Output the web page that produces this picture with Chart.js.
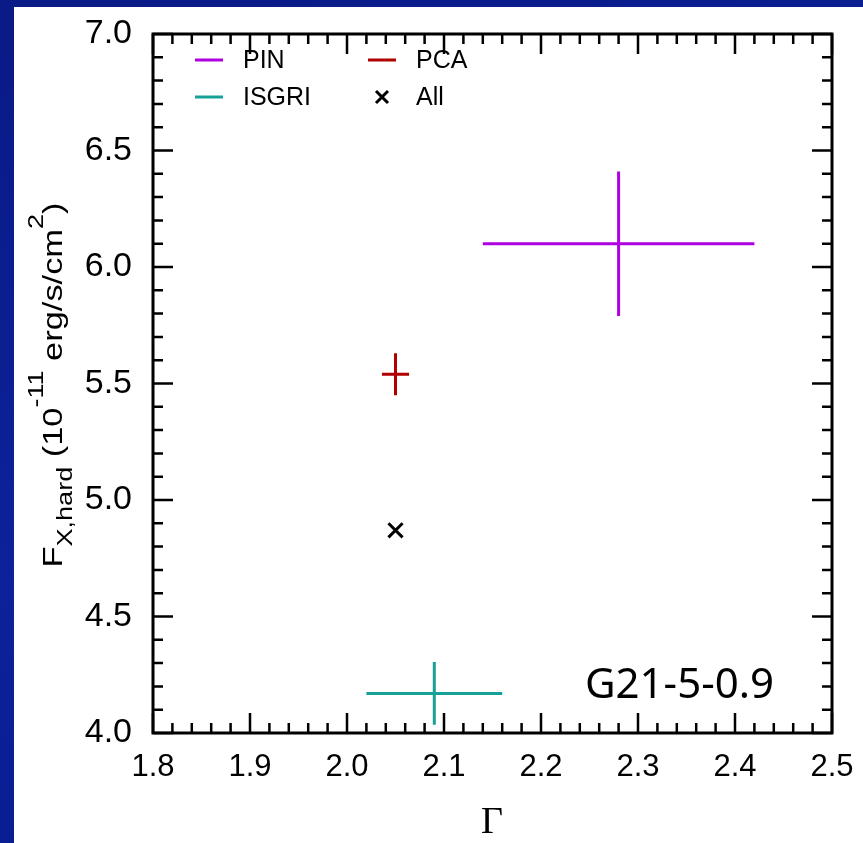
<!DOCTYPE html>
<html>
<head>
<meta charset="utf-8">
<script src="https://cdn.jsdelivr.net/npm/chart.js@4.4.1/dist/chart.umd.min.js"></script>
<style>
  html, body { margin: 0; padding: 0; }
  body {
    width: 863px; height: 843px; overflow: hidden;
    background: linear-gradient(160deg, #0a1a86 0%, #0b229a 50%, #08198a 100%);
  }
  #panel {
    position: absolute; left: 14px; top: 7px;
    width: 849px; height: 836px; background: #ffffff;
  }
</style>
</head>
<body>
<div id="panel"><canvas id="grafico" width="849" height="836"></canvas></div>
<script>
// Dados
const instrumentos = ['PIN', 'PCA', 'ISGRI'];
const cores = ['#b000e0', '#b00000', '#17a098'];
const gammaVals = [2.28, 2.05, 2.09];
const gammaErr = [0.14, 0.014, 0.07];
const fluxVals = [6.10, 5.54, 4.17];
const fluxErr = [0.31, 0.09, 0.135];
const allGamma = [2.05];
const allFlux = [4.87];
const xTicks = [1.8, 1.9, 2.0, 2.1, 2.2, 2.3, 2.4, 2.5];
const yTicks = [4.0, 4.5, 5.0, 5.5, 6.0, 6.5, 7.0];
const rotuloFonte = 'G21-5-0.9';

const SANS = "'Liberation Sans', Arial, Helvetica, sans-serif";

// Quebra cada intervalo entre ticks principais em n partes
function ticksMenores(maiores, n) {
  const out = [];
  for (let i = 0; i < maiores.length - 1; i++) {
    const a = maiores[i], b = maiores[i + 1];
    for (let k = 1; k < n; k++) out.push(a + (b - a) * k / n);
  }
  return out;
}

const datasets = instrumentos.map((nome, i) => ({
  label: nome,
  data: [{ x: gammaVals[i], y: fluxVals[i] }],
  xerr: [gammaErr[i]],
  yerr: [fluxErr[i]],
  borderColor: cores[i],
  backgroundColor: cores[i],
  pointRadius: 0,
  showLine: false
}));
datasets.push({
  label: 'All',
  data: allGamma.map((g, i) => ({ x: g, y: allFlux[i] })),
  borderColor: '#000',
  backgroundColor: '#000',
  pointStyle: 'crossRot',
  pointRadius: 10,
  borderWidth: 3,
  showLine: false
});

// Barras de erro, moldura, ticks internos, legenda e títulos
const moldura = {
  id: 'moldura',
  afterDatasetsDraw(chart) {
    const ctx = chart.ctx, xs = chart.scales.x, ys = chart.scales.y;
    ctx.save();
    ctx.lineWidth = 3;
    ctx.lineCap = 'butt';
    chart.data.datasets.forEach(ds => {
      if (!ds.xerr) return;
      ds.data.forEach((p, j) => {
        ctx.strokeStyle = ds.borderColor;
        ctx.beginPath();
        ctx.moveTo(xs.getPixelForValue(p.x - ds.xerr[j]), ys.getPixelForValue(p.y));
        ctx.lineTo(xs.getPixelForValue(p.x + ds.xerr[j]), ys.getPixelForValue(p.y));
        ctx.moveTo(xs.getPixelForValue(p.x), ys.getPixelForValue(p.y - ds.yerr[j]));
        ctx.lineTo(xs.getPixelForValue(p.x), ys.getPixelForValue(p.y + ds.yerr[j]));
        ctx.stroke();
      });
    });
    ctx.restore();
  },
  afterDraw(chart) {
    const ctx = chart.ctx, a = chart.chartArea, xs = chart.scales.x, ys = chart.scales.y;
    ctx.save();
    ctx.strokeStyle = '#000';
    // ticks
    ctx.lineWidth = 2.5;
    const tick = (v, len, eixo) => {
      ctx.beginPath();
      if (eixo === 'x') {
        const px = xs.getPixelForValue(v);
        ctx.moveTo(px, a.bottom); ctx.lineTo(px, a.bottom - len);
        ctx.moveTo(px, a.top); ctx.lineTo(px, a.top + len);
      } else {
        const py = ys.getPixelForValue(v);
        ctx.moveTo(a.left, py); ctx.lineTo(a.left + len, py);
        ctx.moveTo(a.right, py); ctx.lineTo(a.right - len, py);
      }
      ctx.stroke();
    };
    xTicks.forEach(v => tick(v, 20, 'x'));
    ticksMenores(xTicks, 5).forEach(v => tick(v, 10, 'x'));
    yTicks.forEach(v => tick(v, 20, 'y'));
    ticksMenores(yTicks, 5).forEach(v => tick(v, 10, 'y'));
    // moldura
    ctx.lineWidth = 3;
    ctx.strokeRect(a.left, a.top, a.right - a.left, a.bottom - a.top);

    // legenda
    ctx.font = '25px ' + SANS;
    ctx.textBaseline = 'middle';
    ctx.fillStyle = '#000';
    const itens = [
      { nome: 'PIN', cor: cores[0], x: 181, y: 53 },
      { nome: 'PCA', cor: cores[1], x: 354, y: 53 },
      { nome: 'ISGRI', cor: cores[2], x: 181, y: 90 },
      { nome: 'All', cor: '#000', x: 354, y: 90, marca: true }
    ];
    itens.forEach(it => {
      ctx.lineWidth = 3;
      ctx.strokeStyle = it.cor;
      ctx.beginPath();
      if (it.marca) {
        const cx = it.x + 14, r = 6;
        ctx.moveTo(cx - r, it.y - r); ctx.lineTo(cx + r, it.y + r);
        ctx.moveTo(cx - r, it.y + r); ctx.lineTo(cx + r, it.y - r);
      } else {
        ctx.moveTo(it.x, it.y); ctx.lineTo(it.x + 28, it.y);
      }
      ctx.stroke();
      ctx.fillText(it.nome, it.x + 48, it.y + 1);
    });

    // rótulo da fonte
    ctx.font = "42px 'Noto Sans', sans-serif";
    ctx.textBaseline = 'alphabetic';
    ctx.textAlign = 'left';
    ctx.fillText(rotuloFonte, 571, 691);

    // título do eixo x
    ctx.font = "38px 'Liberation Serif', 'Times New Roman', serif";
    ctx.textAlign = 'center';
    ctx.fillText('\u0393', 478, 826);

    // título do eixo y com subscrito e sobrescrito
    const partes = [
      { t: 'F', f: 28, dy: 0 },
      { t: 'X,hard', f: 22, dy: 10 },
      { t: ' (10', f: 28, dy: 0 },
      { t: '-11', f: 22, dy: -19 },
      { t: ' erg/s/cm', f: 28, dy: 0 },
      { t: '2', f: 22, dy: -19 },
      { t: ')', f: 28, dy: 0 }
    ];
    ctx.textAlign = 'left';
    let total = 0;
    partes.forEach(p => { ctx.font = p.f + 'px ' + SANS; p.w = ctx.measureText(p.t).width; total += p.w; });
    const estica = 365 / total;
    ctx.translate(48, 378);
    ctx.rotate(-Math.PI / 2);
    ctx.scale(estica, 1);
    let x0 = -total / 2;
    partes.forEach(p => {
      ctx.font = p.f + 'px ' + SANS;
      ctx.fillText(p.t, x0, p.dy);
      x0 += p.w;
    });
    ctx.restore();
  }
};

new Chart(document.getElementById('grafico'), {
  type: 'scatter',
  data: { datasets: datasets },
  options: {
    responsive: false,
    animation: false,
    layout: { padding: { left: 0, top: 27, right: 31, bottom: 0 } },
    plugins: { legend: { display: false }, tooltip: { enabled: false } },
    scales: {
      x: {
        type: 'linear',
        min: 1.8, max: 2.5,
        grid: { display: false, drawTicks: false },
        border: { display: false },
        afterBuildTicks: s => { s.ticks = xTicks.map(v => ({ value: v })); },
        afterFit: s => { s.height = 110; s.paddingLeft = 0; s.paddingRight = 0; },
        ticks: {
          padding: 16,
          color: '#000',
          font: { family: SANS, size: 31 },
          maxRotation: 0,
          callback: v => v.toFixed(1)
        }
      },
      y: {
        type: 'linear',
        min: 4.0, max: 7.0,
        grid: { display: false, drawTicks: false },
        border: { display: false },
        afterBuildTicks: s => { s.ticks = yTicks.map(v => ({ value: v })); },
        afterFit: s => { s.width = 139; s.paddingTop = 0; s.paddingBottom = 0; },
        ticks: {
          padding: 21,
          color: '#000',
          font: { family: SANS, size: 34 },
          callback: v => v.toFixed(1)
        }
      }
    }
  },
  plugins: [moldura]
});
</script>
</body>
</html>
